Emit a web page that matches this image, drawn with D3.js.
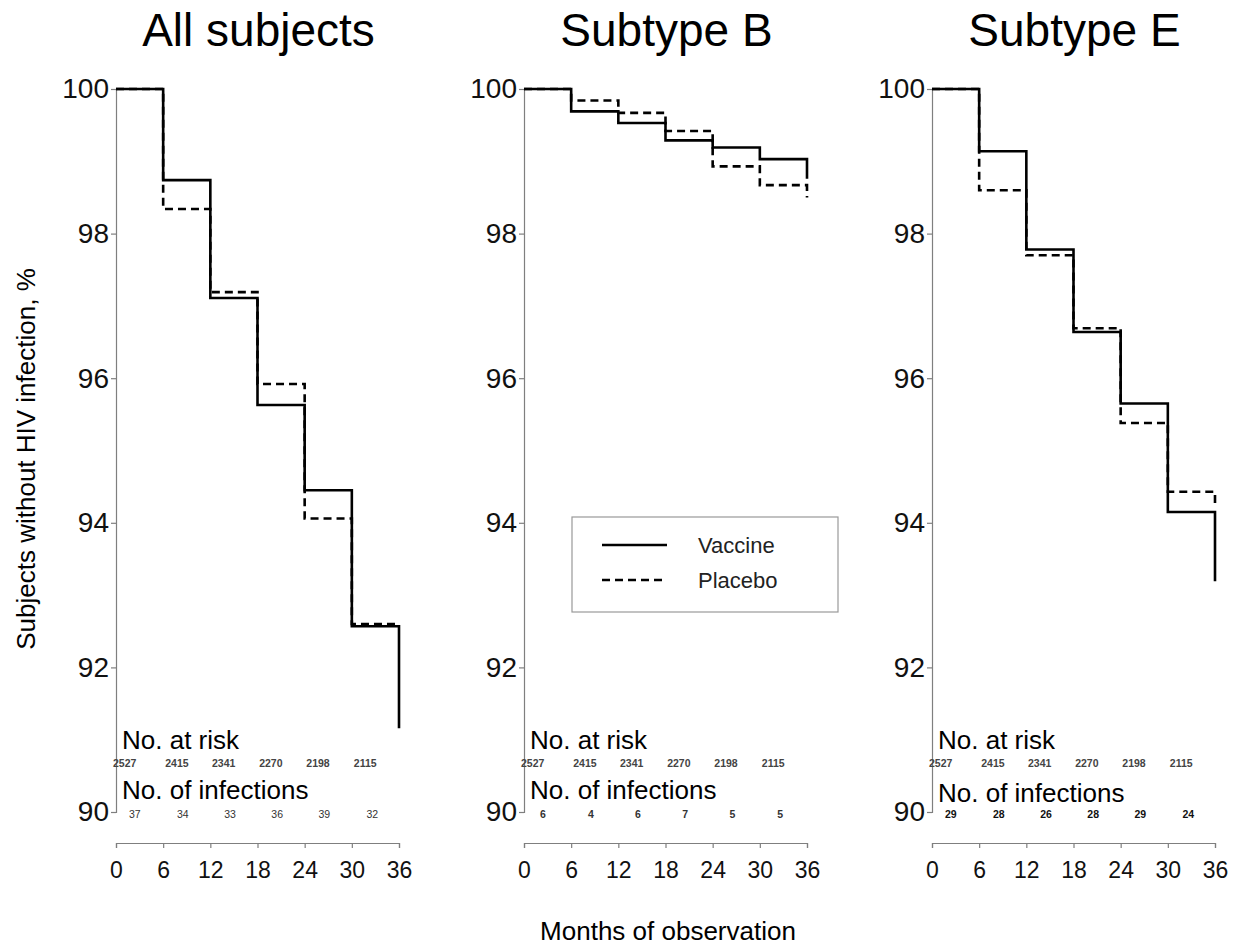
<!DOCTYPE html>
<html>
<head>
<meta charset="utf-8">
<script src="https://cdn.jsdelivr.net/npm/d3@7"></script>
<style>
  html, body { margin: 0; padding: 0; background: #fff; }
  svg { display: block; font-family: Arial, "Liberation Sans", Helvetica, sans-serif; }
</style>
</head>
<body>
<svg id="chart" width="1238" height="945"></svg>
<script>
// ---------- data ----------
const months = [0, 6, 12, 18, 24, 30, 36];
const yTicks = [90, 92, 94, 96, 98, 100];
const panelTitles = ["All subjects", "Subtype B", "Subtype E"];

// survival (%) at start of each 6-month interval, last value = level after final drop at 36
const vaccineAll = [100, 98.74, 97.11, 95.63, 94.45, 92.57, 91.16];
const placeboAll = [100, 98.34, 97.19, 95.92, 94.06, 92.60, 92.60];
const vaccineB   = [100, 99.69, 99.53, 99.29, 99.19, 99.03, 98.76];
const placeboB   = [100, 99.84, 99.67, 99.42, 98.93, 98.67, 98.50];
const vaccineE   = [100, 99.14, 97.78, 96.64, 95.65, 94.15, 93.19];
const placeboE   = [100, 98.60, 97.70, 96.69, 95.38, 94.43, 94.25];

const atRisk = ["2527", "2415", "2341", "2270", "2198", "2115"];
const atRiskMonths = [1.1, 7.75, 13.7, 19.7, 25.7, 31.7];
const infectionsAll = ["37", "34", "33", "36", "39", "32"];
const infectionsB   = ["6", "4", "6", "7", "5", "5"];
const infectionsE   = ["29", "28", "26", "28", "29", "24"];
const infectionMonths = [2.4, 8.5, 14.5, 20.5, 26.5, 32.6];

const legendLabels = ["Vaccine", "Placebo"];

const panels = [
  { title: panelTitles[0], vaccine: vaccineAll, placebo: placeboAll, infections: infectionsAll, infWeight: "normal", infFill: "#333" },
  { title: panelTitles[1], vaccine: vaccineB, placebo: placeboB, infections: infectionsB, infWeight: "bold", infFill: "#333" },
  { title: panelTitles[2], vaccine: vaccineE, placebo: placeboE, infections: infectionsE, infWeight: "bold", infFill: "#111" }
];

// ---------- layout ----------
const svg = d3.select("#chart");
const panelLeft = [116, 524, 932];
const panelW = 283;
const yTop = 89, yBottom = 812;
const xAxisY = 843;
const axisGray = "#7f7f7f";

const x = d3.scaleLinear().domain([0, 36]).range([0, panelW]);
const y = d3.scaleLinear().domain([90, 100]).range([yBottom, yTop]);

const stepLine = d3.line()
  .x(d => x(d[0]))
  .y(d => y(d[1]))
  .curve(d3.curveStepAfter);

panels.forEach((p, i) => {
  const g = svg.append("g").attr("transform", `translate(${panelLeft[i]},0)`);

  // title
  g.append("text")
    .attr("x", panelW / 2 + 1)
    .attr("y", 46)
    .attr("text-anchor", "middle")
    .attr("font-size", 46)
    .attr("fill", "#000")
    .text(p.title);

  // y axis
  const ya = g.append("g")
    .call(d3.axisLeft(y).tickValues(yTicks).tickSize(5).tickPadding(2).tickFormat(d3.format("d")));
  ya.select(".domain").attr("stroke", axisGray).attr("stroke-width", 1.2);
  ya.selectAll(".tick line").attr("stroke", axisGray).attr("stroke-width", 1.2);
  ya.selectAll(".tick text").attr("font-size", 28).attr("fill", "#111")
    .attr("font-family", "Arial, 'Liberation Sans', sans-serif");

  // x axis
  const xa = g.append("g")
    .attr("transform", `translate(0,${xAxisY})`)
    .call(d3.axisBottom(x).tickValues(months).tickSize(5).tickPadding(14));
  xa.select(".domain").attr("stroke", axisGray).attr("stroke-width", 1.2);
  xa.selectAll(".tick line").attr("stroke", axisGray).attr("stroke-width", 1.2);
  xa.selectAll(".tick text").attr("font-size", 23).attr("fill", "#111")
    .attr("font-family", "Arial, 'Liberation Sans', sans-serif");

  // curves
  const vPts = months.map((m, k) => [m, p.vaccine[k]]);
  const pPts = months.map((m, k) => [m, p.placebo[k]]);

  g.append("path")
    .attr("d", stepLine(pPts))
    .attr("fill", "none")
    .attr("stroke", "#000")
    .attr("stroke-width", 2.6)
    .attr("stroke-dasharray", "8,5");

  g.append("path")
    .attr("d", stepLine(vPts))
    .attr("fill", "none")
    .attr("stroke", "#000")
    .attr("stroke-width", 2.6);

  // at-risk table
  g.append("text")
    .attr("x", 6).attr("y", 749)
    .attr("font-size", 26).attr("fill", "#000")
    .text("No. at risk");
  g.selectAll(".risk").data(atRisk).enter().append("text")
    .attr("x", (d, k) => x(atRiskMonths[k]))
    .attr("y", 767)
    .attr("text-anchor", "middle")
    .attr("font-size", 10.5)
    .attr("font-weight", "bold")
    .attr("fill", "#444")
    .text(d => d);

  g.append("text")
    .attr("x", 6).attr("y", i === 2 ? 802 : 799)
    .attr("font-size", 26).attr("fill", "#000")
    .text("No. of infections");
  g.selectAll(".inf").data(p.infections).enter().append("text")
    .attr("x", (d, k) => x(infectionMonths[k]))
    .attr("y", 818)
    .attr("text-anchor", "middle")
    .attr("font-size", 10.5)
    .attr("font-weight", p.infWeight)
    .attr("fill", p.infFill)
    .text(d => d);

  // legend in middle panel
  if (i === 1) {
    const lg = g.append("g").attr("transform", "translate(48,517)");
    lg.append("rect")
      .attr("width", 266).attr("height", 95)
      .attr("fill", "#fff").attr("stroke", "#999").attr("stroke-width", 1.2);
    legendLabels.forEach((lab, k) => {
      lg.append("line")
        .attr("x1", 30).attr("x2", 95)
        .attr("y1", 28 + k * 35).attr("y2", 28 + k * 35)
        .attr("stroke", "#000").attr("stroke-width", 2.6)
        .attr("stroke-dasharray", k === 1 ? "8,5" : null);
      lg.append("text")
        .attr("x", 126).attr("y", 36 + k * 35)
        .attr("font-size", 22).attr("fill", "#222")
        .text(lab);
    });
  }
});

// shared axis labels
svg.append("text")
  .attr("transform", "translate(35,459) rotate(-90)")
  .attr("text-anchor", "middle")
  .attr("font-size", 26)
  .attr("fill", "#000")
  .text("Subjects without HIV infection, %");

svg.append("text")
  .attr("x", 668).attr("y", 940)
  .attr("text-anchor", "middle")
  .attr("font-size", 26)
  .attr("fill", "#000")
  .text("Months of observation");
</script>
</body>
</html>
